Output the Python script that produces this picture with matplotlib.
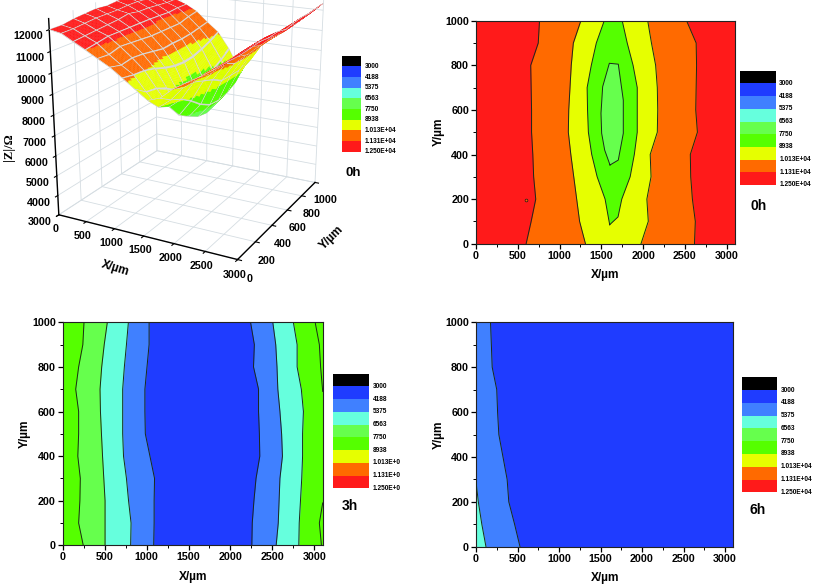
import numpy as np
import matplotlib
matplotlib.use("Agg")
import matplotlib.pyplot as plt
from matplotlib.colors import to_rgba

plt.rcParams['font.family'] = ['Liberation Sans', 'DejaVu Sans']
plt.rcParams['font.weight'] = 'bold'
plt.rcParams['axes.labelweight'] = 'bold'

W, H = 813, 584
LEVEL_LABELS = ['3000', '4188', '5375', '6563', '7750', '8938', '1.013E+04', '1.131E+04', '1.250E+04']
LEVEL_LABELS_CUT = ['3000', '4188', '5375', '6563', '7750', '8938', '1.013E+0', '1.131E+0', '1.250E+0']
LEVELS = [3000, 4188, 5375, 6563, 7750, 8938, 10130, 11310, 12500]
BAND_COLORS = ['#000000', '#1f3cff', '#4080ff', '#66ffdd', '#66ff4d', '#55ff00', '#e6ff00', '#ff6a00', '#ff1a1a']

# 0h surface grid, |Z| in ohm
GX = [0, 200, 400, 600, 800, 1000, 1200, 1400, 1600, 1800, 2000, 2200, 2400, 2600, 2800, 3000]
GY = [0, 100, 200, 300, 400, 500, 600, 700, 800, 900, 1000]
Z0 = [
 [12000,11900,11600,11310,11000,10700,10300, 9900, 9500, 9700,10200,10550,10900,11280,11700,12100],
 [12000,11900,11650,11400,10950,10550,10200, 9500, 8900, 9350,10000,10450,10800,11250,11700,12150],
 [12100,11950,11700,11500,11100,10650,10150, 9400, 8650, 9100,10000,10500,10900,11330,11750,12200],
 [12150,12000,11750,11500,11050,10600,10000, 9150, 7950, 8750, 9800,10400,10850,11380,11800,12150],
 [12200,12000,11800,11500,11000,10500, 9800, 8800, 7600, 8300, 9600,10450,10850,11400,11850,12200],
 [12150,12000,11900,11500,10950,10400, 9650, 8500, 7300, 8000, 9300,10200,10700,11200,11700,12100],
 [12200,12050,11800,11500,10950,10450, 9600, 8400, 7200, 7950, 9300,10200,10750,11250,11750,12200],
 [12200,12050,11800,11480,10950,10450, 9650, 8450, 7400, 8050, 9300,10250,10750,11220,11750,12250],
 [12150,12000,11750,11450,10950,10500, 9800, 8800, 7730, 8300, 9550,10300,10800,11200,11700,12250],
 [12100,11950,11700,11500,11100,10600,10000, 9100, 8000, 8850, 9800,10400,10850,11250,11750,12300],
 [12050,11950,11700,11500,11200,10700,10250, 9450, 8400, 9050, 9950,10500,10950,11400,11800,12350],
]

# contour boundary positions (X in um) per Y row
ROWS = [0, 100, 200, 300, 400, 500, 600, 700, 800, 900, 1000]

# 0h contour map
h0_red_orange_l = [600, 660, 715, 690, 680, 665, 665, 660, 655, 745, 760]
h0_orange_yellow_l = [1310, 1240, 1205, 1170, 1135, 1105, 1110, 1125, 1140, 1165, 1255]
h0_yellow_orange_r = [1975, 2062, 2045, 2095, 2085, 2170, 2175, 2170, 2150, 2100, 2055]
h0_orange_red_r = [2615, 2625, 2590, 2570, 2565, 2650, 2630, 2635, 2640, 2635, 2520]
h0_green_x = [1600, 1545, 1450, 1385, 1345, 1335, 1330, 1380, 1440, 1535, 1750, 1810, 1880, 1930, 1930, 1930, 1895, 1845, 1745, 1700]
h0_green_y = [85, 200, 300, 400, 500, 600, 700, 800, 900, 1000, 1000, 900, 800, 700, 600, 500, 400, 300, 200, 120]
h0_light_x = [1604, 1540, 1504, 1496, 1516, 1596, 1703, 1763, 1763, 1703]
h0_light_y = [353, 420, 495, 585, 704, 809, 805, 644, 495, 375]

# 3h contour map
h3_b1 = [245, 190, 205, 210, 180, 190, 190, 155, 190, 240, 254]
h3_b2 = [505, 505, 505, 490, 475, 462, 450, 445, 465, 495, 532]
h3_b3 = [810, 815, 785, 760, 725, 715, 715, 715, 735, 760, 783]
h3_b4 = [1085, 1090, 1090, 1095, 1040, 985, 980, 980, 1005, 1030, 1030]
h3_b5 = [2255, 2260, 2280, 2305, 2350, 2345, 2335, 2335, 2275, 2285, 2240]
h3_b6 = [2545, 2570, 2580, 2590, 2620, 2610, 2590, 2565, 2555, 2540, 2505]
h3_b7 = [2815, 2820, 2835, 2850, 2860, 2860, 2870, 2845, 2795, 2795, 2750]
h3_top_x = [3100, 3075, 3060, 3010]
h3_top_y = [690, 800, 900, 1000]
h3_bot_x = [3085, 3060, 3100]
h3_bot_y = [0, 100, 190]

# 6h contour map
h6_b1 = [530, 465, 395, 375, 325, 275, 260, 250, 195, 185, 175]
h6_b2_x = [120, 70, 28, 0]
h6_b2_y = [0, 100, 200, 290]

TICK_X = [0, 500, 1000, 1500, 2000, 2500, 3000]
TICK_Y = [0, 200, 400, 600, 800, 1000]
TICK_Z = [3000, 4000, 5000, 6000, 7000, 8000, 9000, 10000, 11000, 12000]


def px_axes(fig, l, t, r, b, **kw):
    return fig.add_axes([l / W, 1 - b / H, (r - l) / W, (b - t) / H], **kw)


fig = plt.figure(figsize=(W / 100, H / 100), dpi=100, facecolor='white')


def legend(l, t, r, b, labels):
    ax = px_axes(fig, l, t, r, b)
    ax.barh(np.arange(9) + 0.5, [1] * 9, height=1, left=0, color=BAND_COLORS)
    ax.set_xlim(0, 1)
    ax.set_ylim(9, 0)
    ax.axis('off')
    for i, s in enumerate(labels):
        ax.annotate(s, (1, i + 1), xytext=(2.5, 0), textcoords='offset points',
                    fontsize=4.7, va='center', ha='left', annotation_clip=False)


def contour_axes(l, t, r, b, bg):
    ax = px_axes(fig, l, t, r, b)
    ax.set_facecolor(bg)
    ax.set_xlim(0, 3100)
    ax.set_ylim(0, 1000)
    ax.set_xticks(TICK_X)
    ax.set_yticks(TICK_Y)
    ax.set_xticks(np.arange(250, 3100, 500), minor=True)
    ax.set_yticks(np.arange(100, 1000, 200), minor=True)
    ax.tick_params(which='major', direction='out', length=3.5, width=0.9, labelsize=7.7, pad=1.5)
    ax.tick_params(which='minor', direction='out', length=2, width=0.7)
    for s in ax.spines.values():
        s.set_linewidth(0.8)
        s.set_color('#222222')
    ax.set_xlabel('X/µm', fontsize=8.6, labelpad=6)
    ax.set_ylabel('Y/µm', fontsize=8.6, labelpad=0.5)
    return ax


def band(ax, left, right, color):
    ax.fill_betweenx(ROWS, left, right, color=color, lw=0, zorder=1)


def line(ax, x, y=None):
    ax.plot(x, ROWS if y is None else y, color='#1a2a1a', lw=0.7, zorder=3, clip_on=True)


# 0h contour
ax = contour_axes(476, 20.7, 735, 243.7, BAND_COLORS[8])
band(ax, h0_red_orange_l, h0_orange_red_r, BAND_COLORS[7])
band(ax, h0_orange_yellow_l, h0_yellow_orange_r, BAND_COLORS[6])
ax.fill(h0_green_x, h0_green_y, color=BAND_COLORS[5], lw=0, zorder=2)
ax.fill(h0_light_x, h0_light_y, color=BAND_COLORS[4], lw=0, zorder=2)
for b in (h0_red_orange_l, h0_orange_yellow_l, h0_yellow_orange_r, h0_orange_red_r):
    line(ax, b)
line(ax, h0_green_x + h0_green_x[:1], h0_green_y + h0_green_y[:1])
line(ax, h0_light_x + h0_light_x[:1], h0_light_y + h0_light_y[:1])
ax.plot([600], [198], marker='o', ms=2, mfc=BAND_COLORS[7], mec='#1a1a1a', mew=0.5, zorder=4)
legend(740, 70.7, 775.7, 185, LEVEL_LABELS)
fig.text(759 / W, 1 - 206 / H, '0h', fontsize=10, ha='center', va='center')

# 3h contour
ax = contour_axes(62.7, 322.3, 322.7, 545.3, BAND_COLORS[5])
band(ax, h3_b1, h3_b7, BAND_COLORS[4])
ax.fill_betweenx(h3_top_y, h3_top_x, [3100] * 4, color=BAND_COLORS[5], lw=0, zorder=2)
ax.fill_betweenx(h3_bot_y, h3_bot_x, [3100] * 3, color=BAND_COLORS[5], lw=0, zorder=2)
band(ax, h3_b2, h3_b7, BAND_COLORS[3])
band(ax, h3_b3, h3_b6, BAND_COLORS[2])
band(ax, h3_b4, h3_b5, BAND_COLORS[1])
for b in (h3_b1, h3_b2, h3_b3, h3_b4, h3_b5, h3_b6, h3_b7):
    line(ax, b)
line(ax, h3_top_x, h3_top_y)
line(ax, h3_bot_x, h3_bot_y)
legend(333, 373.7, 369, 488.3, LEVEL_LABELS_CUT)
fig.text(350 / W, 1 - 505.7 / H, '3h', fontsize=10, ha='center', va='center')

# 6h contour
ax = contour_axes(476, 322.3, 733.3, 546.7, BAND_COLORS[1])
band(ax, [0] * 11, h6_b1, BAND_COLORS[2])
ax.fill_betweenx(h6_b2_y, [0] * 4, h6_b2_x, color=BAND_COLORS[3], lw=0, zorder=2)
line(ax, h6_b1)
line(ax, h6_b2_x, h6_b2_y)
legend(741.7, 377.3, 777.3, 492.3, LEVEL_LABELS)
fig.text(757.7 / W, 1 - 510 / H, '6h', fontsize=10, ha='center', va='center')

# 0h 3-D surface
ax3 = fig.add_axes([-0.004, 0.545, 0.47, 0.53], projection='3d')
ax3.patch.set_alpha(0)
gx, gy, z = np.array(GX, float), np.array(GY, float), np.array(Z0, float)

# facet positions inside each mesh cell: thin strips next to a mesh line take the mesh colour
sub = np.array([0.0, 0.04, 0.16, 0.28, 0.40, 0.52, 0.64, 0.76, 0.88, 0.96])
N = len(sub)
ix = np.append((np.arange(len(gx) - 1)[:, None] + sub[None, :]).ravel(), len(gx) - 1)
iy = np.append((np.arange(len(gy) - 1)[:, None] + sub[None, :]).ravel(), len(gy) - 1)
fx = np.interp(ix, np.arange(len(gx)), gx)
fy = np.interp(iy, np.arange(len(gy)), gy)
zr = np.array([np.interp(ix, np.arange(len(gx)), r) for r in z])
zf = np.array([np.interp(iy, np.arange(len(gy)), c) for c in zr.T]).T
XX, YY = np.meshgrid(fx, fy)
cz = 0.25 * (zf[:-1, :-1] + zf[1:, :-1] + zf[:-1, 1:] + zf[1:, 1:])
bands = np.digitize(cz, LEVELS[:-1] + [99999])
band_rgba = np.array([to_rgba(c) for c in BAND_COLORS + ['#ff1a1a']])
cols = band_rgba[np.clip(bands, 0, 9)]
mesh = to_rgba('#d8d8d8')
cx = np.arange(len(ix) - 1) % N
cy = np.arange(len(iy) - 1) % N
cols[:, (cx == 0) | (cx == N - 1)] = mesh
cols[(cy == 0) | (cy == N - 1), :] = mesh
face = np.zeros(XX.shape + (4,))
face[:-1, :-1] = cols
surf = ax3.plot_surface(XX, YY, zf, facecolors=face, rstride=1, cstride=1, shade=False,
                        linewidth=0.2, antialiased=True)
surf.set_edgecolor(cols.reshape(-1, 4))

ax3.set_xlim(0, 3000)
ax3.set_ylim(0, 1000)
ax3.set_zlim(3000, 12500)
ax3.set_xticks(TICK_X)
ax3.set_yticks(TICK_Y)
ax3.set_zticks(TICK_Z)
ax3.view_init(elev=19, azim=-62)
ax3.set_proj_type('persp', focal_length=0.55)
ax3.set_box_aspect((1.18, 1.17, 1.2), zoom=1.07)
for a in (ax3.xaxis, ax3.yaxis, ax3.zaxis):
    a.set_pane_color((1, 1, 1, 0))
    a.pane.set_edgecolor('#444444')
    a.pane.set_linewidth(0.8)
    a.line.set_linewidth(1.0)
    a._axinfo['grid']['color'] = '#d5dde2'
    a._axinfo['grid']['linewidth'] = 0.6
    a._axinfo['tick']['inward_factor'] = 0.25
    a._axinfo['tick']['outward_factor'] = 0.0
ax3.zaxis.set_ticks_position('lower')
ax3.tick_params(labelsize=7.7, pad=0)
ax3.tick_params(axis='x', pad=-4)
ax3.tick_params(axis='y', pad=-1)
fig.text(115 / W, 1 - 268 / H, 'X/µm', fontsize=8.6, rotation=-17, ha='center', va='center')
fig.text(332 / W, 1 - 238 / H, 'Y/µm', fontsize=8.6, rotation=45, ha='center', va='center')
fig.text(9 / W, 1 - 147 / H, '|Z|/Ω', fontsize=9, rotation=90, ha='center', va='center',
         family=['Liberation Serif', 'DejaVu Sans'])
legend(342, 55.7, 361, 151.7, LEVEL_LABELS)
fig.text(353 / W, 1 - 172.7 / H, '0h', fontsize=9.5, ha='center', va='center')

fig.savefig('out.png', dpi=100)
